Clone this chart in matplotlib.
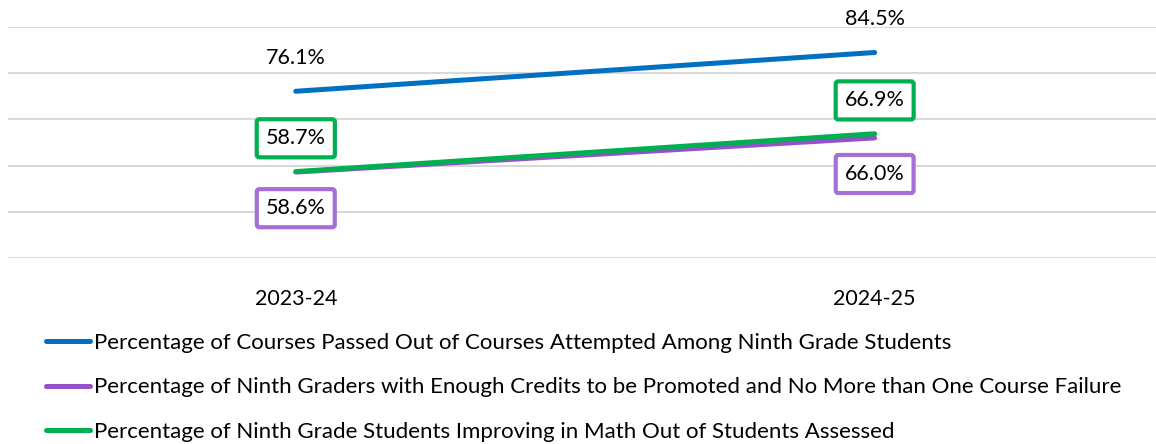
import matplotlib
matplotlib.use("Agg")
import matplotlib.pyplot as plt

years = ["2023-24", "2024-25"]
courses_passed = [76.1, 84.5]
promoted = [58.6, 66.0]
math_improving = [58.7, 66.9]

names = [
    "Percentage of Courses Passed Out of Courses Attempted Among Ninth Grade Students",
    "Percentage of Ninth Graders with Enough Credits to be Promoted and No More than One Course Failure",
    "Percentage of Ninth Grade Students Improving in Math Out of Students Assessed",
]

blue = "#0070C0"
purple = "#9550CC"
purple_box = "#A66FD6"
green = "#00B050"

plt.rcParams["font.family"] = ["Lato", "DejaVu Sans"]

fig = plt.figure(figsize=(11.56, 4.44), dpi=100)
ax = fig.add_axes([0.007, 0.419, 0.993, 0.52])

x = range(len(years))
l1, = ax.plot(x, courses_passed, color=blue, lw=3.6, solid_capstyle="round", zorder=3)
l2, = ax.plot(x, promoted, color=purple, lw=3.6, solid_capstyle="round", zorder=3)
l3, = ax.plot(x, math_improving, color=green, lw=3.6, solid_capstyle="round", zorder=4)

fs = 15.5
box = "round,pad=0.42,rounding_size=0.12"
for i, v in enumerate(courses_passed):
    ax.annotate(f"{v:.1f}%", (i, v), xytext=(0, 24), textcoords="offset points",
                ha="center", va="center", fontsize=fs, annotation_clip=False)
for i, v in enumerate(math_improving):
    ax.annotate(f"{v:.1f}%", (i, v), xytext=(0, 24), textcoords="offset points",
                ha="center", va="center", fontsize=fs,
                bbox=dict(boxstyle=box, fc="white", ec=green, lw=3))
for i, v in enumerate(promoted):
    ax.annotate(f"{v:.1f}%", (i, v), xytext=(0, -26), textcoords="offset points",
                ha="center", va="center", fontsize=fs,
                bbox=dict(boxstyle=box, fc="white", ec=purple_box, lw=3))

ax.set_xlim(-0.497, 1.486)
ax.set_ylim(40, 90)
ax.set_yticks(range(40, 91, 10))
ax.grid(axis="y", color="#D9D9D9", lw=1.5)
ax.set_axisbelow(True)
for s in ax.spines.values():
    s.set_visible(False)
ax.set_xticks(list(x))
ax.set_xticklabels(years, fontsize=fs)
ax.tick_params(axis="x", length=0, pad=22)
ax.tick_params(axis="y", length=0, labelleft=False)

leg = fig.legend([l1, l2, l3], names, loc="upper left", bbox_to_anchor=(0.032, 0.27),
                 frameon=False, fontsize=16, handlelength=2.0, handletextpad=0.15,
                 labelspacing=1.1, borderaxespad=0)
for h in leg.legend_handles:
    h.set_solid_capstyle("round")

fig.savefig("out.png", dpi=100)
